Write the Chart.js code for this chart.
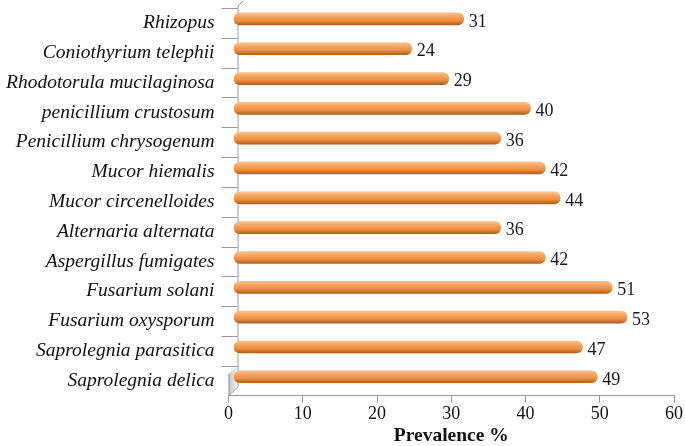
<!DOCTYPE html>
<html><head><meta charset="utf-8">
<script src="https://cdn.jsdelivr.net/npm/chart.js@4/dist/chart.umd.min.js"></script>
<style>html,body{margin:0;padding:0;background:#fff}#wrap{width:685px;height:446px}</style>
</head><body><div id="wrap"><canvas id="c"></canvas></div>
<script>
const categories = ["Rhizopus","Coniothyrium telephii","Rhodotorula mucilaginosa","penicillium crustosum","Penicillium chrysogenum","Mucor hiemalis","Mucor circenelloides","Alternaria alternata","Aspergillus fumigates","Fusarium solani","Fusarium oxysporum","Saprolegnia parasitica","Saprolegnia delica"];
const prevalence = [31,24,29,40,36,42,44,36,42,51,53,47,49];
const xTicks = [0,10,20,30,40,50,60];

const SERIF = '"Liberation Serif", "Times New Roman", serif';
const DX = 5, DY = -4, DEPTH = 9;

function barFill(ctx){
  const chart = ctx.chart;
  const ys = chart.scales && chart.scales.y;
  if(!ys || !chart.chartArea) return '#F09A4A';
  const yc = ys.getPixelForValue(ctx.dataIndex);
  const g = chart.ctx.createLinearGradient(0, yc-6, 0, yc+6);
  g.addColorStop(0,'#F8C08C');
  g.addColorStop(0.3,'#F5A660');
  g.addColorStop(0.65,'#EE8E3E');
  g.addColorStop(1,'#B05E1C');
  return g;
}

const wallPlugin = {
  id:'wall',
  beforeDatasetsDraw(chart){
    const c = chart.ctx, a = chart.chartArea;
    const L = a.left, B = a.bottom, T = a.top;
    c.save();
    const g = c.createLinearGradient(L, 0, L+DEPTH, 0);
    g.addColorStop(0,'#c4c4c4'); g.addColorStop(1,'#f4f4f4');
    c.fillStyle = g;
    c.beginPath();
    c.moveTo(L, B); c.lineTo(L+DEPTH, B-DEPTH); c.lineTo(L+DEPTH, B-30); c.lineTo(L, B-22); c.closePath();
    c.fill();
    c.strokeStyle = '#9a9a9a'; c.lineWidth = 1;
    c.beginPath();
    c.moveTo(L+DEPTH+0.5, T-2); c.lineTo(L+DEPTH+0.5, B-DEPTH);
    c.lineTo(L+0.5, B);
    c.moveTo(L+DEPTH+0.5, T-2); c.lineTo(L+DEPTH+5.5, T-7);
    c.moveTo(L+0.5, B); c.lineTo(L+0.5, B-22);
    const ys = chart.scales.y;
    for(let i=0;i<categories.length;i++){
      const y = Math.round(ys.getPixelForValue(i-0.5)) + 0.5;
      c.moveTo(L-7, y); c.lineTo(L+DEPTH, y);
    }
    c.stroke();
    c.restore();
    c.save();
    c.translate(DX, DY);
  },
  afterDatasetsDraw(chart){
    chart.ctx.restore();
    const c = chart.ctx;
    const meta = chart.getDatasetMeta(0);
    c.save();
    c.font = '18px ' + SERIF;
    c.fillStyle = '#1a1a1a';
    c.textBaseline = 'middle';
    c.textAlign = 'left';
    meta.data.forEach((b,i)=>{
      c.fillText(String(prevalence[i]), b.x + DX + 5, b.y + DY + 3);
    });
    c.restore();
  }
};

new Chart(document.getElementById('c'), {
  type:'bar',
  data:{labels:categories, datasets:[{data:prevalence, backgroundColor:barFill, borderWidth:0, borderRadius:6, borderSkipped:false, barThickness:12}]},
  options:{
    indexAxis:'y', responsive:true, maintainAspectRatio:false, animation:false,
    layout:{padding:{top:8,right:9,left:0,bottom:0}},
    plugins:{legend:{display:false}, tooltip:{enabled:false}},
    scales:{
      x:{min:0,max:60,
        afterBuildTicks(s){s.ticks = xTicks.map(v=>({value:v}));},
        border:{color:'#9a9a9a',width:1},
        grid:{drawOnChartArea:false, color:'#9a9a9a', tickLength:7},
        ticks:{color:'#111', padding:2, maxRotation:0, font:{family:SERIF, size:18, lineHeight:1.1}},
        title:{display:true,text:'Prevalence %',color:'#111',padding:{top:0,bottom:0},font:{family:SERIF, size:19.5, weight:'bold', lineHeight:1.0}}
      },
      y:{
        border:{display:false},
        afterFit(s){ s.paddingTop = 0; s.paddingBottom = 0; },
        grid:{drawOnChartArea:false, color:'rgba(0,0,0,0)', tickLength:8, offset:true},
        ticks:{color:'#111', padding:6, font:{family:SERIF, size:19.5, style:'italic'}}
      }
    }
  },
  plugins:[wallPlugin]
});
</script></body></html>
